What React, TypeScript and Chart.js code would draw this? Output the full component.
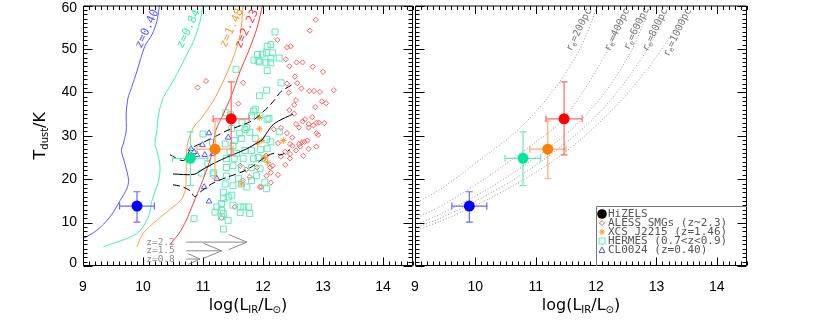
import React, { useEffect, useRef } from 'react';
import { Chart, registerables } from 'chart.js';

Chart.register(...registerables);

// ---------------- data ----------------
const xTickValues = [9, 10, 11, 12, 13, 14];
const yTickValues = [0, 10, 20, 30, 40, 50, 60];
const xRange = [9, 14.5];
const yRange = [0, 60];

// HiZELS stacks
const hzX = [9.9, 10.79, 11.2, 11.47];
const hzY = [13.8, 24.8, 26.9, 33.9];
const hzXLo = [9.61, 10.49, 10.9, 11.17];
const hzXHi = [10.19, 11.08, 11.5, 11.77];
const hzYLo = [10.1, 18.5, 20.1, 25.6];
const hzYHi = [17.1, 30.9, 33.4, 42.4];

// ALESS SMGs
const alessPts: number[][] = [
  [12.88, 56.7], [12.78, 54.2], [12.24, 52.1], [12.40, 50.4], [12.46, 50.6], [12.38, 47.6], [12.44, 46.0],
  [12.56, 46.9], [12.66, 46.9], [12.83, 45.9], [13.0, 44.7], [12.53, 43.6], [12.57, 42.1], [12.40, 42.0],
  [12.43, 39.9], [12.64, 40.9], [12.77, 40.3], [12.85, 40.3], [12.95, 40.1], [13.18, 40.5], [12.55, 38.2],
  [12.98, 37.9], [13.05, 37.5], [12.52, 37.1], [12.87, 36.6], [12.44, 35.9], [12.52, 35.1], [12.82, 34.3],
  [12.70, 33.8], [12.66, 33.3], [12.76, 32.7], [12.89, 33.0], [12.93, 33.0], [13.02, 32.9], [12.55, 32.7],
  [12.60, 31.9], [12.76, 31.9], [12.84, 32.4], [12.30, 31.8], [12.18, 31.5], [12.89, 30.6], [12.92, 30.2],
  [12.40, 30.6], [12.49, 29.6], [12.25, 28.3], [12.45, 28.1], [12.49, 27.7], [12.60, 28.1], [12.65, 28.5],
  [12.69, 28.6], [12.74, 28.9], [12.62, 27.5], [12.89, 27.5], [12.55, 26.6], [12.76, 27.0], [12.37, 26.3],
  [12.45, 25.8], [12.30, 25.2], [12.45, 24.8], [12.67, 25.4], [12.16, 23.1], [12.12, 22.7], [12.37, 23.3],
  [12.13, 21.5], [12.25, 21.0], [12.06, 20.8], [12.13, 19.2], [11.05, 42.6], [10.91, 41.1], [11.67, 42.2],
  [11.59, 37.4], [11.62, 23.1], [11.72, 22.2], [11.78, 20.5], [11.53, 13.6], [11.31, 11.1], [11.97, 18.2],
  [12.01, 24.7], [12.05, 25.4], [11.90, 22.7], [11.66, 19.7], [11.95, 18.2],
];

// HERMES
const hermesPts: number[][] = [
  [12.2, 53.9], [12.13, 51.0], [12.06, 49.1], [12.16, 49.1], [12.13, 47.9], [12.27, 47.9], [12.13, 46.8],
  [12.3, 42.2], [12.06, 40.5], [12.1, 34.0], [12.07, 50.6], [11.99, 48.8], [11.91, 48.7], [11.85, 47.4],
  [11.92, 47.2], [11.94, 47.0], [12.05, 46.8], [12.07, 45.0], [11.55, 45.3], [11.94, 39.2], [11.87, 36.1],
  [11.38, 35.3], [11.46, 34.8], [11.84, 35.7], [12.07, 33.8], [11.81, 34.6], [11.95, 34.6], [11.65, 33.0],
  [11.73, 31.9], [12.27, 30.9], [12.13, 28.6], [12.06, 17.8], [12.06, 29.2], [11.48, 31.7], [11.61, 30.6],
  [11.70, 31.4], [11.78, 30.8], [11.87, 29.4], [11.64, 29.4], [11.53, 28.9], [11.50, 27.7], [11.37, 28.1],
  [11.45, 26.2], [11.56, 26.0], [11.70, 26.6], [11.81, 26.6], [11.96, 26.8], [12.07, 27.0], [11.39, 24.7],
  [11.52, 24.7], [11.67, 24.8], [11.84, 24.7], [11.92, 25.0], [12.03, 24.7], [11.39, 22.7], [11.50, 23.1],
  [11.64, 22.4], [11.81, 22.7], [11.95, 22.4], [11.17, 21.2], [11.39, 20.7], [11.59, 20.1], [11.50, 18.5],
  [11.64, 18.9], [11.73, 18.2], [11.37, 18.9], [11.81, 19.7], [11.89, 20.8], [12.03, 19.3], [11.34, 17.0],
  [11.48, 16.3], [11.34, 15.5], [11.42, 15.9], [11.31, 14.4], [11.50, 14.0], [11.62, 13.6], [11.68, 13.6],
  [11.76, 13.6], [11.23, 13.6], [11.31, 12.8], [11.20, 12.4], [11.34, 12.1], [11.62, 12.3], [11.78, 12.1],
  [11.42, 10.5], [11.31, 11.3], [11.34, 8.5], [10.85, 10.9], [10.98, 21.4], [11.16, 28.5], [11.0, 30.4],
  [11.08, 23.6], [11.18, 21.5],
];

// CL0024
const clPts: number[][] = [
  [11.1, 30.6], [11.42, 29.6], [10.99, 27.9], [10.8, 27.0], [10.85, 26.3], [10.9, 25.6], [11.03, 25.6],
  [11.16, 25.8], [11.23, 20.1], [11.02, 18.2], [11.1, 14.9],
];

// XCS J2215
const xcsPts: number[][] = [
  [11.94, 34.2], [11.94, 31.6], [11.98, 28.9], [11.91, 28.3], [12.03, 25.0], [12.34, 28.9], [12.08, 23.8], [11.64, 18.9],
];

// selection-limit curves
const zCurve040: number[][] = [
  [8.9, 5.5], [9.0, 6.3], [9.23, 8.2], [9.45, 11.3], [9.62, 15.1], [9.73, 17.8], [9.76, 19.7], [9.70, 23.5],
  [9.64, 26.6], [9.67, 28.1], [9.72, 31.1], [9.72, 35.0], [9.75, 38.7], [9.81, 41.1], [9.90, 44.9],
  [10.03, 50.6], [10.15, 53.3], [10.23, 56.3], [10.28, 60.5],
];
const zCurve084: number[][] = [
  [9.34, 4.4], [9.9, 7.5], [10.09, 11.3], [10.15, 15.1], [10.23, 18.2], [10.28, 21.2], [10.28, 23.5],
  [10.23, 26.6], [10.2, 28.1], [10.23, 31.1], [10.26, 35.0], [10.34, 38.8], [10.53, 43.3], [10.7, 47.9],
  [10.84, 51.7], [10.95, 56.3], [11.0, 60.5],
];
const zCurve148: number[][] = [
  [9.9, 4.4], [10.0, 7.5], [10.23, 10.5], [10.5, 13.6], [10.65, 15.5], [10.71, 18.0], [10.72, 23.0],
  [10.73, 27.0], [10.78, 30.0], [10.86, 32.3], [10.97, 34.0], [11.17, 38.0], [11.34, 42.6], [11.5, 47.9],
  [11.62, 53.3], [11.67, 60.5],
];
const zCurve223: number[][] = [
  [10.45, 5.0], [10.6, 7.5], [10.72, 10.5], [10.84, 14.5], [10.97, 18.8], [11.07, 22.5], [11.14, 25.5],
  [11.18, 29.0], [11.22, 31.5], [11.34, 35.0], [11.48, 39.5], [11.62, 44.9], [11.76, 49.5], [11.9, 54.8],
  [12.0, 60.5],
];
const zLabelText = ['z=0.40', 'z=0.84', 'z=1.48', 'z=2.23'];
const zLabelX = [10.07, 10.76, 11.48, 11.73];
const zLabelY = [54.6, 54.6, 54.8, 54.6];

// running median and scatter
const medianPts: number[][] = [
  [10.5, 21.2], [10.85, 21.1], [11.0, 22.3], [11.23, 24.0], [11.39, 25.0], [11.53, 25.8], [11.73, 27.0],
  [11.87, 28.1], [11.98, 29.0], [12.06, 30.6], [12.15, 32.3], [12.26, 33.4], [12.5, 35.0],
];
const upperPts: number[][] = [
  [10.45, 25.6], [10.68, 24.3], [10.8, 27.0], [10.98, 28.3], [11.2, 29.8], [11.4, 31.2], [11.62, 32.3],
  [11.84, 33.6], [12.0, 35.5], [12.1, 36.8], [12.2, 38.4], [12.3, 40.2], [12.48, 41.7],
];
const lowerPts: number[][] = [
  [10.5, 18.7], [10.62, 18.4], [10.78, 17.4], [10.86, 16.0], [10.95, 17.0], [11.14, 18.9], [11.39, 20.4],
  [11.64, 21.6], [11.84, 23.1], [12.06, 25.3], [12.2, 26.0], [12.3, 25.6], [12.45, 26.8],
];

// luminosity limit arrows
const arrowText = ['z=2.2', 'z=1.5', 'z=0.8'];
const arrowStart = [10.72, 10.72, 10.72];
const arrowEnd = [11.73, 11.31, 10.95];
const arrowY = [5.5, 3.5, 1.6];
const arrowTextX = 10.53;

// constant-size curves (right panel)
const re200: number[][] = [
  [9.0, 14.4], [9.4, 17.5], [9.8, 21.5], [10.2, 25.8], [10.6, 30.0], [11.0, 35.5], [11.4, 42.5], [11.75, 50.5], [12.03, 60.0], [12.06, 61],
];
const re400: number[][] = [
  [9.0, 10.9], [9.4, 13.6], [9.8, 16.9], [10.2, 20.5], [10.6, 24.5], [11.0, 28.5], [11.4, 33.0], [11.8, 40.5], [12.2, 50.0], [12.5, 60.0], [12.53, 61],
];
const re600: number[][] = [
  [9.0, 9.4], [9.4, 11.8], [9.8, 14.6], [10.2, 17.7], [10.6, 21.2], [11.0, 25.0], [11.4, 29.2], [11.8, 34.3], [12.2, 41.0], [12.6, 50.0], [12.9, 60.0], [12.93, 61],
];
const re800: number[][] = [
  [9.0, 8.7], [9.4, 10.9], [9.8, 13.5], [10.2, 16.4], [10.6, 19.6], [11.0, 23.2], [11.4, 27.3], [11.8, 31.9], [12.2, 37.6], [12.6, 44.7], [13.0, 53.5], [13.2, 60.0], [13.23, 61],
];
const re1000: number[][] = [
  [9.0, 8.2], [9.4, 10.2], [9.8, 12.6], [10.2, 15.3], [10.6, 18.3], [11.0, 21.6], [11.4, 25.3], [11.8, 29.8], [12.2, 35.0], [12.6, 41.0], [13.0, 48.2], [13.3, 54.5], [13.5, 60.0], [13.53, 61],
];
const reLabelText = ['200pc', '400pc', '600pc', '800pc', '1000pc'];
const reLabelX = [11.72, 12.35, 12.67, 12.98, 13.35];
const reLabelY = [54.4, 54.4, 54.7, 54.4, 53.8];

const legendLabels = ['HiZELS', 'ALESS SMGs (z~2.3)', 'XCS J2215 (z=1.46)', 'HERMES (0.7<z<0.9)', 'CL0024 (z=0.40)'];

// ---------------- styles ----------------
const C = {
  hz: ['#0000ff', '#00e69a', '#ff8000', '#ff0000'],
  hzErr: ['#6a6aff', '#6fe8bf', '#ffac66', '#ff6a6a'],
  zCurve: ['#5a5aff', '#3ff0bd', '#ff9d3c', '#ff3c3c'],
  aless: '#ff5c5c',
  hermes: '#5feab9',
  cl: '#5a5aff',
  xcs: '#ff9a3a',
  gray: '#8a8a8a',
  dotted: '#9a9a9a',
};
const TICK_FONT = '14px "Liberation Sans", Arial, sans-serif';
const TITLE = '16px "DejaVu Sans", sans-serif';
const TITLE_SUB = '10px "DejaVu Sans", sans-serif';

const W = 830, H = 332;
const LEFT_AREA = { left: 83, right: 413, top: 5, bottom: 266 };
const RIGHT_AREA = { left: 415, right: 747, top: 5, bottom: 266 };

const toXY = (pts: number[][]) => pts.map(([x, y]) => ({ x, y }));

type Part = { t: string; font: string; dy?: number };
function drawRich(ctx: CanvasRenderingContext2D, parts: Part[], x: number, y: number, align: 'left' | 'center' | 'right') {
  let total = 0;
  const ws = parts.map((p) => { ctx.font = p.font; const w = ctx.measureText(p.t).width; total += w; return w; });
  let cx = align === 'center' ? x - total / 2 : align === 'right' ? x - total : x;
  ctx.textAlign = 'left';
  parts.forEach((p, i) => { ctx.font = p.font; ctx.fillText(p.t, cx, y + (p.dy || 0)); cx += ws[i]; });
}

function drawFrame(chart: any, withYLabels: boolean) {
  const { ctx, chartArea: a, scales } = chart;
  const x = scales.x, y = scales.y;
  ctx.save();
  ctx.strokeStyle = '#000';
  ctx.lineWidth = 1;
  const L = a.left + 0.5, R = a.right - 0.5, T = a.top + 0.5, B = a.bottom - 0.5;
  ctx.beginPath();
  ctx.rect(L, T, R - L, B - T);
  for (let i = Math.round(xRange[0] * 10); i <= Math.round(xRange[1] * 10); i++) {
    const v = i / 10;
    const major = xTickValues.some((t) => Math.abs(t - v) < 1e-6);
    const len = major ? 8 : 4;
    const p = Math.round(x.getPixelForValue(v)) + 0.5;
    ctx.moveTo(p, B); ctx.lineTo(p, B - len);
    ctx.moveTo(p, T); ctx.lineTo(p, T + len);
  }
  for (let v = yRange[0]; v <= yRange[1]; v++) {
    const major = yTickValues.includes(v);
    const len = major ? 9 : 4;
    const p = Math.round(y.getPixelForValue(v)) + 0.5;
    ctx.moveTo(L, p); ctx.lineTo(L + len, p);
    ctx.moveTo(R, p); ctx.lineTo(R - len, p);
  }
  ctx.stroke();
  ctx.fillStyle = '#000';
  ctx.font = TICK_FONT;
  ctx.textBaseline = 'middle';
  ctx.textAlign = 'center';
  xTickValues.forEach((v) => ctx.fillText(String(v), x.getPixelForValue(v), a.bottom + 21));
  if (withYLabels) {
    ctx.textAlign = 'right';
    yTickValues.forEach((v) => {
      const p = Math.min(Math.max(y.getPixelForValue(v), a.top + 3), a.bottom - 3);
      ctx.fillText(String(v), a.left - 6, p);
    });
  }
  // x title
  ctx.textBaseline = 'alphabetic';
  drawRich(ctx, [
    { t: 'log(L', font: TITLE },
    { t: 'IR', font: TITLE_SUB, dy: 3 },
    { t: '/L', font: TITLE },
    { t: '\u2299', font: TITLE_SUB, dy: 3 },
    { t: ')', font: TITLE },
  ], (a.left + a.right) / 2, a.bottom + 44, 'center');
  ctx.restore();
}

function drawErrorBars(chart: any) {
  const { ctx, scales } = chart;
  const x = scales.x, y = scales.y;
  ctx.save();
  ctx.lineWidth = 1.2;
  const cap = 3.5;
  hzX.forEach((xv, i) => {
    ctx.strokeStyle = C.hzErr[i];
    const cx = x.getPixelForValue(xv), cy = y.getPixelForValue(hzY[i]);
    const x0 = x.getPixelForValue(hzXLo[i]), x1 = x.getPixelForValue(hzXHi[i]);
    const y0 = y.getPixelForValue(hzYLo[i]), y1 = y.getPixelForValue(hzYHi[i]);
    ctx.beginPath();
    ctx.moveTo(x0, cy); ctx.lineTo(x1, cy);
    ctx.moveTo(x0, cy - cap); ctx.lineTo(x0, cy + cap);
    ctx.moveTo(x1, cy - cap); ctx.lineTo(x1, cy + cap);
    ctx.moveTo(cx, y0); ctx.lineTo(cx, y1);
    ctx.moveTo(cx - cap, y0); ctx.lineTo(cx + cap, y0);
    ctx.moveTo(cx - cap, y1); ctx.lineTo(cx + cap, y1);
    ctx.stroke();
  });
  ctx.restore();
}

const leftDecor = {
  id: 'leftDecor',
  beforeDatasetDraw(chart: any, args: any) {
    if (args.index === 0) drawErrorBars(chart);
  },
  afterDraw(chart: any) {
    const { ctx, chartArea: a, scales } = chart;
    const x = scales.x, y = scales.y;
    drawFrame(chart, true);
    ctx.save();
    // curve labels
    ctx.font = '11.5px "DejaVu Sans Mono", monospace';
    ctx.textAlign = 'center';
    ctx.textBaseline = 'middle';
    zLabelText.forEach((t, i) => {
      ctx.save();
      ctx.translate(x.getPixelForValue(zLabelX[i]), y.getPixelForValue(zLabelY[i]));
      ctx.rotate((-65 * Math.PI) / 180);
      ctx.fillStyle = C.zCurve[i];
      ctx.fillText(t, 0, 0);
      ctx.restore();
    });
    // arrows
    ctx.strokeStyle = C.gray;
    ctx.fillStyle = C.gray;
    ctx.lineWidth = 1;
    ctx.font = '9.5px "DejaVu Sans Mono", monospace';
    arrowText.forEach((t, i) => {
      const py = y.getPixelForValue(arrowY[i]);
      const xs = x.getPixelForValue(arrowStart[i]);
      const xe = x.getPixelForValue(arrowEnd[i]);
      const hl = Math.min(18, (xe - xs) * 0.85);
      const hw = Math.min(7.5, hl * 0.45);
      ctx.beginPath();
      ctx.moveTo(xs, py); ctx.lineTo(xe, py);
      ctx.moveTo(xe - hl, py - hw); ctx.lineTo(xe, py); ctx.lineTo(xe - hl, py + hw);
      ctx.stroke();
      ctx.textAlign = 'right';
      ctx.textBaseline = 'middle';
      ctx.fillText(t, x.getPixelForValue(arrowTextX), py);
    });
    // y title
    ctx.fillStyle = '#000';
    ctx.translate(45, (a.top + a.bottom) / 2);
    ctx.rotate(-Math.PI / 2);
    ctx.textBaseline = 'alphabetic';
    drawRich(ctx, [
      { t: 'T', font: TITLE },
      { t: 'dust', font: TITLE_SUB, dy: 3 },
      { t: '/K', font: TITLE },
    ], 0, 0, 'center');
    ctx.restore();
  },
};

function drawLegendMarker(ctx: CanvasRenderingContext2D, i: number, x: number, y: number) {
  ctx.save();
  ctx.lineWidth = 1;
  ctx.beginPath();
  if (i === 0) {
    ctx.fillStyle = '#000';
    ctx.arc(x, y, 4.8, 0, Math.PI * 2);
    ctx.fill();
  } else if (i === 1) {
    ctx.strokeStyle = C.aless;
    ctx.moveTo(x, y - 2.5); ctx.lineTo(x + 2.5, y); ctx.lineTo(x, y + 2.5); ctx.lineTo(x - 2.5, y); ctx.closePath();
    ctx.stroke();
  } else if (i === 2) {
    ctx.strokeStyle = C.xcs;
    for (let k = 0; k < 4; k++) {
      const ang = (k * Math.PI) / 4;
      ctx.moveTo(x - 3 * Math.cos(ang), y - 3 * Math.sin(ang));
      ctx.lineTo(x + 3 * Math.cos(ang), y + 3 * Math.sin(ang));
    }
    ctx.stroke();
  } else if (i === 3) {
    ctx.strokeStyle = C.hermes;
    ctx.rect(x - 3, y - 3, 6, 6);
    ctx.stroke();
  } else {
    ctx.strokeStyle = C.cl;
    ctx.moveTo(x, y - 3); ctx.lineTo(x + 3, y + 2.5); ctx.lineTo(x - 3, y + 2.5); ctx.closePath();
    ctx.stroke();
  }
  ctx.restore();
}

const rightDecor = {
  id: 'rightDecor',
  beforeDatasetDraw(chart: any, args: any) {
    if (args.index === 0) drawErrorBars(chart);
  },
  afterDraw(chart: any) {
    const { ctx, chartArea: a, scales } = chart;
    const x = scales.x, y = scales.y;
    drawFrame(chart, false);
    ctx.save();
    // r_e labels
    ctx.fillStyle = '#777';
    ctx.textBaseline = 'middle';
    reLabelText.forEach((t, i) => {
      ctx.save();
      ctx.translate(x.getPixelForValue(reLabelX[i]), y.getPixelForValue(reLabelY[i]));
      ctx.rotate((-64 * Math.PI) / 180);
      drawRich(ctx, [
        { t: 'r', font: '10px "DejaVu Sans Mono", monospace' },
        { t: 'e', font: '7px "DejaVu Sans Mono", monospace', dy: 2.5 },
        { t: '=' + t, font: '10px "DejaVu Sans Mono", monospace' },
      ], 0, 0, 'center');
      ctx.restore();
    });
    // legend
    const boxL = a.right - 151;
    const boxT = a.bottom - 60;
    ctx.strokeStyle = '#777';
    ctx.lineWidth = 1;
    ctx.beginPath();
    ctx.moveTo(boxL + 0.5, a.bottom);
    ctx.lineTo(boxL + 0.5, boxT + 0.5);
    ctx.lineTo(a.right, boxT + 0.5);
    ctx.stroke();
    legendLabels.forEach((t, i) => {
      const cy = boxT + 8 + i * 9;
      drawLegendMarker(ctx, i, boxL + 6, cy);
      ctx.fillStyle = '#555';
      ctx.font = '11px "DejaVu Sans Mono", monospace';
      ctx.textAlign = 'left';
      ctx.textBaseline = 'middle';
      ctx.fillText(t, boxL + 12, cy);
    });
    ctx.restore();
  },
};

function scalesFor() {
  return {
    x: { type: 'linear', min: xRange[0], max: xRange[1], display: false },
    y: { type: 'linear', min: yRange[0], max: yRange[1], display: false },
  };
}

function hizelsDataset() {
  return {
    data: hzX.map((x, i) => ({ x, y: hzY[i] })),
    showLine: false,
    pointRadius: 5.5,
    pointBackgroundColor: C.hz,
    pointBorderWidth: 0,
    borderWidth: 0,
    order: 0,
  };
}

function lineDs(pts: number[][], color: string, order: number, extra: any = {}) {
  return {
    data: toXY(pts),
    showLine: true,
    pointRadius: 0,
    borderColor: color,
    borderWidth: 1,
    tension: 0.3,
    fill: false,
    order,
    ...extra,
  };
}

function pointDs(pts: number[][], style: string, color: string, radius: number, order: number) {
  return {
    data: toXY(pts),
    showLine: false,
    pointStyle: style,
    pointRadius: radius,
    pointBorderColor: color,
    pointBackgroundColor: 'rgba(0,0,0,0)',
    pointBorderWidth: 1,
    order,
  };
}

function baseOptions(area: { left: number; right: number; top: number; bottom: number }) {
  return {
    responsive: false,
    animation: false,
    events: [],
    layout: { padding: { left: area.left, right: W - area.right, top: area.top, bottom: H - area.bottom } },
    plugins: { legend: { display: false }, tooltip: { enabled: false } },
    scales: scalesFor(),
  };
}

export default function App() {
  const leftRef = useRef<HTMLCanvasElement>(null);
  const rightRef = useRef<HTMLCanvasElement>(null);

  useEffect(() => {
    const left = new Chart(leftRef.current as HTMLCanvasElement, {
      type: 'scatter',
      data: {
        datasets: [
          hizelsDataset(),
          lineDs(medianPts, '#000', 1),
          lineDs(upperPts, '#000', 1, { borderDash: [7, 4] }),
          lineDs(lowerPts, '#000', 1, { borderDash: [7, 4] }),
          lineDs(zCurve040, C.zCurve[0], 2),
          lineDs(zCurve084, C.zCurve[1], 2),
          lineDs(zCurve148, C.zCurve[2], 2),
          lineDs(zCurve223, C.zCurve[3], 2),
          pointDs(xcsPts, 'star', C.xcs, 3.2, 3),
          pointDs(clPts, 'triangle', C.cl, 3.3, 3),
          pointDs(hermesPts, 'rect', C.hermes, 4.2, 4),
          pointDs(alessPts, 'rectRot', C.aless, 2.6, 5),
        ],
      } as any,
      options: baseOptions(LEFT_AREA) as any,
      plugins: [leftDecor],
    });
    const right = new Chart(rightRef.current as HTMLCanvasElement, {
      type: 'scatter',
      data: {
        datasets: [
          hizelsDataset(),
          lineDs(re200, C.dotted, 1, { borderDash: [1, 2] }),
          lineDs(re400, C.dotted, 1, { borderDash: [1, 2] }),
          lineDs(re600, C.dotted, 1, { borderDash: [1, 2] }),
          lineDs(re800, C.dotted, 1, { borderDash: [1, 2] }),
          lineDs(re1000, C.dotted, 1, { borderDash: [1, 2] }),
        ],
      } as any,
      options: baseOptions(RIGHT_AREA) as any,
      plugins: [rightDecor],
    });
    return () => {
      left.destroy();
      right.destroy();
    };
  }, []);

  const cs: React.CSSProperties = { position: 'absolute', left: 0, top: 0, width: W, height: H };
  return (
    <div style={{ position: 'absolute', left: 0, top: 0, width: W, height: H, background: '#fff' }}>
      <canvas ref={leftRef} width={W} height={H} style={cs} />
      <canvas ref={rightRef} width={W} height={H} style={cs} />
    </div>
  );
}
